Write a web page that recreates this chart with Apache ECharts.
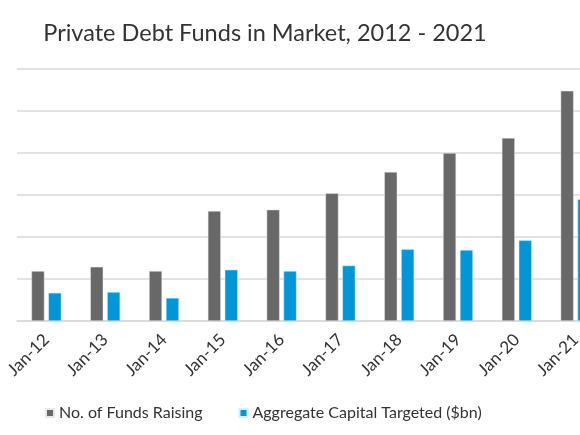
<!DOCTYPE html>
<html>
<head>
<meta charset="utf-8">
<script src="https://cdn.jsdelivr.net/npm/echarts@6/dist/echarts.min.js"></script>
<style>
  html, body { margin: 0; padding: 0; background: #fff; }
  #chart { width: 580px; height: 435px; }
</style>
</head>
<body>
<div id="chart"></div>
<script>
var categories = ['Jan-12', 'Jan-13', 'Jan-14', 'Jan-15', 'Jan-16', 'Jan-17', 'Jan-18', 'Jan-19', 'Jan-20', 'Jan-21'];
var fundsRaising = [119, 129, 119, 262, 265, 304, 355, 400, 436, 548];
var capitalTargeted = [67, 69, 55, 122, 119, 132, 171, 169, 192, 290];

var myChart = echarts.init(document.getElementById('chart'));
var font = 'Lato, "Noto Sans", sans-serif';

// plot runs past the right edge, the original picture is cropped there
myChart.setOption({
    animation: false,
    title: {
        text: 'Private Debt Funds in Market, 2012 - 2021',
        left: 260,
        textAlign: 'center',
        top: 16,
        textStyle: { fontFamily: font, fontSize: 23.5, fontWeight: 'normal', color: '#333' }
    },
    legend: {
        left: 40,
        top: 400,
        itemWidth: 8,
        itemHeight: 8,
        itemGap: 36,
        icon: 'rect',
        textStyle: { fontFamily: font, fontSize: 16, color: '#333' },
        data: ['No. of Funds Raising', 'Aggregate Capital Targeted ($bn)']
    },
    grid: { left: 17, width: 588, top: 69, height: 252, containLabel: false, outerBoundsMode: 'none' },
    xAxis: {
        type: 'category',
        data: categories,
        axisTick: { show: false },
        axisLine: { lineStyle: { color: '#d9d9d9', width: 1.5 } },
        axisLabel: {
            rotate: 45,
            interval: 0,
            margin: 16,
            fontFamily: font,
            fontSize: 17,
            color: '#333'
        }
    },
    yAxis: {
        type: 'value',
        min: 0,
        max: 600,
        interval: 100,
        axisLabel: { show: false },
        axisLine: { show: false },
        axisTick: { show: false },
        splitLine: { lineStyle: { color: '#d9d9d9', width: 1.5 } }
    },
    series: [
        {
            name: 'No. of Funds Raising',
            type: 'bar',
            data: fundsRaising,
            barWidth: 13,
            barGap: '30%',
            itemStyle: { color: '#686868', borderColor: '#e8e8e8', borderWidth: 0.5 }
        },
        {
            name: 'Aggregate Capital Targeted ($bn)',
            type: 'bar',
            data: capitalTargeted,
            barWidth: 13,
            itemStyle: { color: '#0096d8', borderColor: '#d6eefa', borderWidth: 0.5 }
        }
    ]
});
</script>
</body>
</html>
